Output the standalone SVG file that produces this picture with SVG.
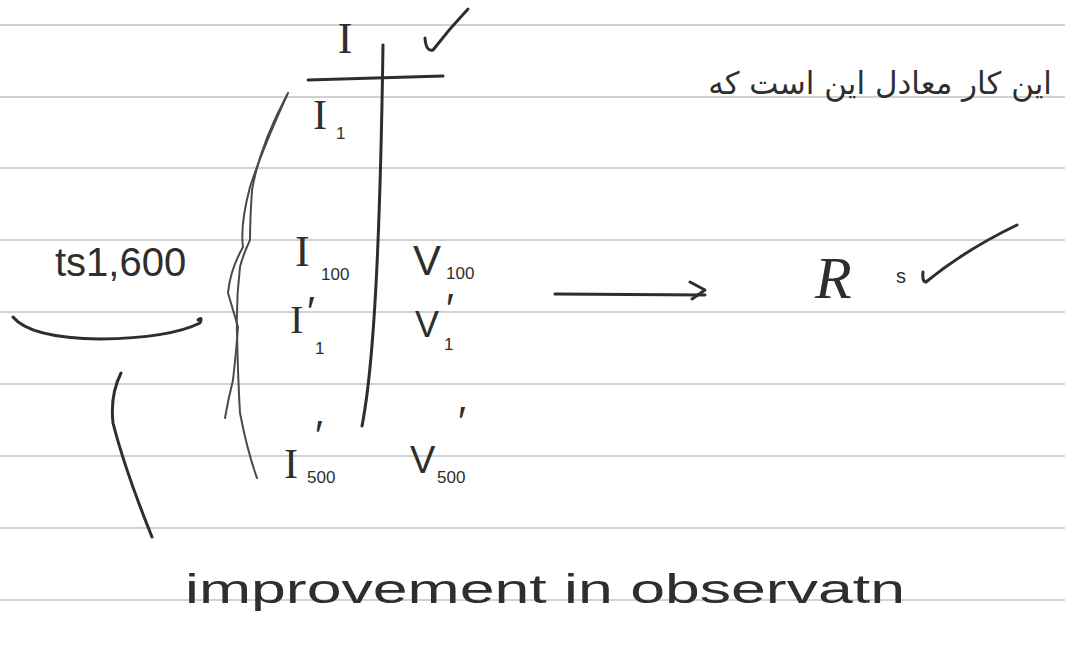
<svg xmlns="http://www.w3.org/2000/svg" width="1065" height="647" viewBox="0 0 1065 647">
  <style>
    .rule { stroke: #d2d2d2; stroke-width: 2; fill: none; }
    .ink { stroke: #2e2e2e; stroke-width: 3; fill: none; stroke-linecap: round; stroke-linejoin: round; }
    .inkthin { stroke: #4a4a4a; stroke-width: 2; fill: none; stroke-linecap: round; stroke-linejoin: round; }
    .t { fill: #2e2e2e; font-family: "Liberation Serif", serif; }
    .s { fill: #2e2e2e; font-family: "Liberation Sans", sans-serif; }
    .sub { fill: #2e2e2e; font-family: "Liberation Sans", sans-serif; font-size: 17px; }
    .pr { fill: #2e2e2e; font-family: "Liberation Sans", sans-serif; font-size: 42px; }
  </style>
  <rect width="1065" height="647" fill="#ffffff"/>
  <g id="paper">
    <line class="rule" x1="0" y1="25" x2="1065" y2="25"/>
    <line class="rule" x1="0" y1="97" x2="1065" y2="97"/>
    <line class="rule" x1="0" y1="168" x2="1065" y2="168"/>
    <line class="rule" x1="0" y1="240" x2="1065" y2="240"/>
    <line class="rule" x1="0" y1="312" x2="1065" y2="312"/>
    <line class="rule" x1="0" y1="384" x2="1065" y2="384"/>
    <line class="rule" x1="0" y1="456" x2="1065" y2="456"/>
    <line class="rule" x1="0" y1="528" x2="1065" y2="528"/>
    <line class="rule" x1="0" y1="600" x2="1065" y2="600"/>
  </g>

  <g id="table">
    <path class="ink" d="M308,80 L443,76"/>
    <path class="ink" d="M383,45 Q380,250 372,345 Q368,395 362,426"/>
    <path class="ink" d="M425,38 Q426,52 433,50 Q450,28 468,9"/>
  </g>

  <g id="header-I">
    <text class="t" x="345" y="53" font-size="44" text-anchor="middle">I</text>
  </g>
  <g id="row-I1">
    <text class="t" x="313" y="129" font-size="42">I</text>
    <text class="sub" x="336" y="139">1</text>
  </g>
  <g id="row-I100">
    <text class="t" x="295" y="266" font-size="44">I</text>
    <text class="sub" x="321" y="280">100</text>
  </g>
  <g id="row-V100">
    <text class="s" x="413" y="275" font-size="42">V</text>
    <text class="sub" x="446" y="279">100</text>
  </g>
  <g id="row-I1p">
    <text class="t" x="290" y="333" font-size="40">I</text>
    <text class="pr" x="307" y="326">′</text>
    <text class="sub" x="315" y="354">1</text>
  </g>
  <g id="row-V1p">
    <text class="s" x="415" y="337" font-size="36">V</text>
    <text class="pr" x="446" y="323">′</text>
    <text class="sub" x="444" y="350">1</text>
  </g>
  <g id="row-I500p">
    <text class="t" x="284" y="478" font-size="42">I</text>
    <text class="pr" x="315" y="450">′</text>
    <text class="sub" x="307" y="483">500</text>
  </g>
  <g id="row-V500p">
    <text class="s" x="410" y="473" font-size="38">V</text>
    <text class="pr" x="458" y="436">′</text>
    <text class="sub" x="437" y="483">500</text>
  </g>

  <g id="left-label">
    <text class="s" x="55" y="276" font-size="40">ts1,600</text>
  </g>

  <g id="result">
    <text class="t" x="815" y="298" font-size="60" font-style="italic">R</text>
    <text class="s" x="896" y="283" font-size="20">s</text>
  </g>

  <g id="persian-note">
    <text x="1052" y="94" font-size="31" text-anchor="end" fill="#2e2e2e" font-family="'DejaVu Sans', 'Noto Sans', sans-serif">این کار معادل این است که</text>
  </g>

  <g id="caption">
    <text class="s" x="185" y="603" font-size="40" textLength="720" lengthAdjust="spacingAndGlyphs">improvement in observatn</text>
  </g>

  <g id="connectors">
    <path class="ink" d="M555,294 L705,295"/>
    <path class="ink" d="M690,282 L705,290 L692,299"/>
    <path class="ink" d="M923,272 Q922,282 926,282 Q965,250 1017,225"/>
    <path class="inkthin" d="M288,93 Q262,150 250,187 Q240,225 243,247 Q230,270 228,293 Q233,310 238,327 Q236,355 233,380 Q228,400 225,418"/>
    <path class="inkthin" d="M287,95 Q260,145 252,190 Q250,220 250,240 Q243,255 240,267 Q236,300 237,333 Q238,380 240,413 Q247,450 257,478"/>
    <path class="ink" d="M13,317 Q30,338 100,339 Q170,338 200,323 Q203,316 198,320"/>
    <path class="ink" d="M121,373 Q110,395 113,423 Q125,470 152,537"/>
  </g>
</svg>
